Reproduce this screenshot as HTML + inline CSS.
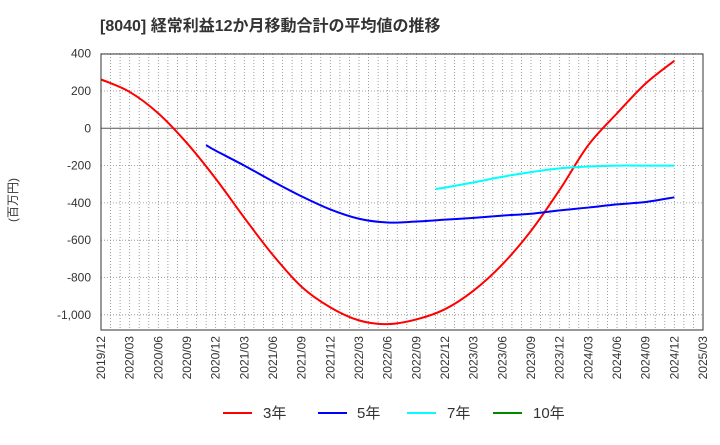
<!DOCTYPE html>
<html><head><meta charset="utf-8"><style>
body{margin:0;background:#fff;font-family:"Liberation Sans","Noto Sans CJK JP",sans-serif}
svg text{font-family:"Liberation Sans","Noto Sans CJK JP",sans-serif}
</style></head><body>
<svg id="c" width="720" height="440">
<text x="100" y="31" font-size="16" font-weight="bold" fill="#333">[8040]  経常利益12か月移動合計の平均値の推移</text>
<text transform="translate(17,200) rotate(-90)" font-size="12" fill="#333" text-anchor="middle">(百万円)</text>
<g id="grid"></g><g id="series"></g><g id="axes"></g>
<g font-size="15" fill="#333">
<line x1="223" y1="413" x2="252" y2="413" stroke="#f00" stroke-width="2"/><text x="263" y="418">3年</text>
<line x1="318" y1="413" x2="347" y2="413" stroke="#00f" stroke-width="2"/><text x="357" y="418">5年</text>
<line x1="407" y1="413" x2="436" y2="413" stroke="#0ff" stroke-width="2"/><text x="447" y="418">7年</text>
<line x1="493" y1="413" x2="522" y2="413" stroke="#080" stroke-width="2"/><text x="533" y="418">10年</text>
</g>
</svg>
<script>
const yTicks=[400,200,0,-200,-400,-600,-800,-1000];
const xLabels=["2019/12","2020/03","2020/06","2020/09","2020/12","2021/03","2021/06","2021/09","2021/12","2022/03","2022/06","2022/09","2022/12","2023/03","2023/06","2023/09","2023/12","2024/03","2024/06","2024/09","2024/12","2025/03"];
const s3Months=[0,3,6,9,12,15,18,21,24,27,30,33,36,39,42,45,48,51,54,57,60];
const s3=[262,195,80,-80,-270,-480,-680,-850,-960,-1030,-1050,-1025,-970,-870,-730,-550,-330,-90,80,240,362];
const s5Months=[11,12,15,18,21,24,27,30,33,36,39,42,45,48,51,54,57,60];
const s5=[-90,-120,-200,-285,-365,-435,-485,-505,-500,-490,-480,-468,-458,-440,-425,-408,-395,-370];
const s7Months=[35,36,39,42,45,48,51,54,57,60];
const s7=[-325,-318,-290,-260,-235,-215,-205,-200,-200,-200];
const L=101,R=703,T=54,B=330,NM=63;
const X=m=>L+(R-L)*m/NM;
const Y=v=>128.3-v*0.1865;
const ns="http://www.w3.org/2000/svg";
function mk(p,t,a){const e=document.createElementNS(ns,t);for(const k in a)e.setAttribute(k,a[k]);p.appendChild(e);return e;}
const grid=document.getElementById('grid'),axes=document.getElementById('axes'),ser=document.getElementById('series');
for(let m=1;m<NM;m++){const l=mk(grid,'line',{x1:X(m),x2:X(m),y1:T,y2:B,stroke:'#888','stroke-width':0.8,'stroke-dasharray':'1,2'});

}
yTicks.forEach(v=>{const l=mk(grid,'line',{x1:L,x2:R,y1:Y(v),y2:Y(v),stroke:v===0?'#555':'#888','stroke-width':v===0?1:0.8,'stroke-dasharray':v===0?'':'1,2'});


const t=mk(axes,'text',{x:L-10,y:Y(v)+4,'font-size':12,fill:'#333','text-anchor':'end'});t.textContent=v.toLocaleString('en-US');

});
const fr=mk(axes,'rect',{x:L,y:T,width:R-L,height:B-T,fill:'none',stroke:'#333','stroke-width':1});


xLabels.forEach((s,i)=>{const x=X(i*3);const t=mk(axes,'text',{transform:`translate(${x+4},${B+6}) rotate(-90)`,'font-size':12,fill:'#333','text-anchor':'end'});t.textContent=s;

});
function path(ms,vs){const p=ms.map((m,i)=>[X(m),Y(vs[i])]);let d=`M${p[0][0]},${p[0][1]}`;
for(let i=0;i<p.length-1;i++){const p0=p[Math.max(0,i-1)],p1=p[i],p2=p[i+1],p3=p[Math.min(p.length-1,i+2)];
d+=` C${p1[0]+(p2[0]-p0[0])/6},${p1[1]+(p2[1]-p0[1])/6} ${p2[0]-(p3[0]-p1[0])/6},${p2[1]-(p3[1]-p1[1])/6} ${p2[0]},${p2[1]}`;}return d;}
[[s3Months,s3,'#f00','series-3yr'],[s5Months,s5,'#00f','series-5yr'],[s7Months,s7,'#0ff','series-7yr']].forEach(([m,v,c,n])=>{
const e=mk(ser,'path',{d:path(m,v),fill:'none',stroke:c,'stroke-width':2});

});
</script>
</body></html>
